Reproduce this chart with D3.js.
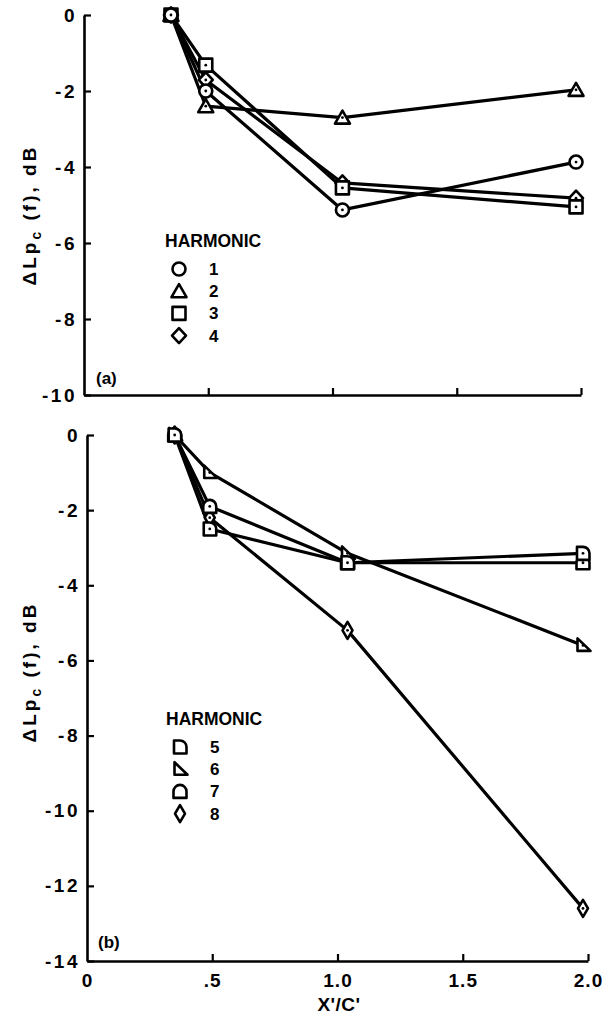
<!DOCTYPE html>
<html>
<head>
<meta charset="utf-8">
<script src="https://cdn.jsdelivr.net/npm/d3@7"></script>
<style>
  html, body { margin: 0; padding: 0; background: #fff; }
  svg text { font-family: "Liberation Sans", Arial, sans-serif; fill: #000; }
</style>
</head>
<body>
<svg id="chart" width="605" height="1019"></svg>
<script>
// Axial distance ratio X'/C' of the measurement stations
const stations = [0.35, 0.49, 1.04, 1.98];

// Panel (a): harmonics 1-4, change in level, dB
const harmonicsA = ["1", "2", "3", "4"];
const h1 = [0, -2.0, -5.13, -3.87];
const h2 = [0, -2.4, -2.7, -1.97];
const h3 = [0, -1.32, -4.55, -5.05];
const h4 = [0, -1.71, -4.42, -4.82];

// Panel (b): harmonics 5-8, change in level, dB
const harmonicsB = ["5", "6", "7", "8"];
const h5 = [0, -2.5, -3.4, -3.15];
const h6 = [0, -1.0, -3.15, -5.6];
const h7 = [0, -1.9, -3.4, -3.4];
const h8 = [0, -2.2, -5.2, -12.6];

// Tick values and labels
const xTicks = [0, 0.5, 1.0, 1.5, 2.0];
const xTickLabels = ["0", ".5", "1.0", "1.5", "2.0"];
const yTicksA = [0, -2, -4, -6, -8, -10];
const yTicksB = [0, -2, -4, -6, -8, -10, -12, -14];

const svg = d3.select("#chart");

// Marker outlines (centred on 0,0)
const shapes = {
  circle: "M 6.5 0 A 6.5 6.5 0 1 1 -6.5 0 A 6.5 6.5 0 1 1 6.5 0 Z",
  triangle: "M 0 -7 L 7.5 6 L -7.5 6 Z",
  square: "M -6.5 -6.5 L 6.5 -6.5 L 6.5 6.5 L -6.5 6.5 Z",
  diamond: "M 0 -7.5 L 7 0 L 0 7.5 L -7 0 Z",
  quarter: "M -6 6.5 L -6 -6.5 L 0 -6.5 A 6.5 6.5 0 0 1 6.5 0 L 6.5 6.5 Z",
  wedge: "M -5.5 -7 L -5.5 5.5 L 7.5 5.5 Z",
  arch: "M -6.5 6.5 L -6.5 0 A 6.5 6.5 0 0 1 6.5 0 L 6.5 6.5 Z",
  lens: "M 0 -8.5 L 5 0 L 0 8.5 L -5 0 Z"
};

function drawPanel(cfg) {
  const g = svg.append("g");
  const x = d3.scaleLinear().domain([0, 2]).range(cfg.xRange);
  const y = d3.scaleLinear().domain([0, cfg.yMin]).range(cfg.yRange);

  // y axis, ticks pointing inward
  const ya = g.append("g")
    .attr("transform", `translate(${cfg.xRange[0]},0)`)
    .call(d3.axisLeft(y).tickValues(cfg.yTicks).tickSize(-7).tickSizeOuter(0).tickPadding(7)
      .tickFormat(d => String(d)));
  // x axis, ticks pointing up
  const xa = g.append("g")
    .attr("transform", `translate(0,${cfg.yRange[1]})`)
    .call(d3.axisBottom(x).tickValues(xTicks).tickSize(-7).tickSizeOuter(0).tickPadding(13)
      .tickFormat((d, i) => cfg.xLabels ? xTickLabels[i] : ""));

  [ya, xa].forEach(a => {
    a.select(".domain").attr("stroke", "#000").attr("stroke-width", 2.6);
    a.selectAll(".tick line").attr("stroke", "#000").attr("stroke-width", 2.2);
    a.selectAll(".tick text").attr("font-size", 19).attr("font-weight", "bold").attr("fill", "#000");
  });
  ya.selectAll(".tick text").attr("letter-spacing", 2.5);
  xa.selectAll(".tick text").attr("letter-spacing", 1);
  xa.selectAll(".tick").filter(d => d === 0).select("line").remove();

  const line = d3.line().x((d, i) => x(stations[i])).y(d => y(d));

  // connecting lines
  cfg.series.forEach(s => {
    g.append("path").datum(s.values)
      .attr("d", line).attr("fill", "none")
      .attr("stroke", "#000").attr("stroke-width", 3.2).attr("stroke-linejoin", "round");
  });

  // markers
  const drawMarker = (parent, shape, cx, cy, dot) => {
    parent.append("path").attr("d", shapes[shape])
      .attr("transform", `translate(${cx},${cy})`)
      .attr("fill", "#fff").attr("stroke", "#000").attr("stroke-width", 2.6)
      .attr("stroke-linejoin", "round");
    if (dot) parent.append("circle").attr("cx", cx).attr("cy", cy).attr("r", 1.4).attr("fill", "#000");
  };
  cfg.series.slice().reverse().forEach(s => {
    s.values.forEach((v, i) => drawMarker(g, s.shape, x(stations[i]), y(v), true));
  });

  // legend
  g.append("text").attr("x", cfg.legend[0]).attr("y", cfg.legend[1])
    .attr("font-size", 17.5).attr("font-weight", "bold").text("HARMONIC");
  cfg.series.forEach((s, i) => {
    const ly = cfg.legend[1] + 28 + i * 22.2;
    drawMarker(g, s.shape, cfg.legend[0] + 14, ly - 6, false);
    g.append("text").attr("x", cfg.legend[0] + 44).attr("y", ly)
      .attr("font-size", 17).attr("font-weight", "bold").text(s.name);
  });

  // panel tag
  g.append("text").attr("x", cfg.tag[0]).attr("y", cfg.tag[1])
    .attr("font-size", 17).attr("font-weight", "bold").text(cfg.tagText);

  // y-axis title
  const t = g.append("text")
    .attr("transform", `translate(${cfg.titleX},${cfg.titleY}) rotate(-90)`)
    .attr("text-anchor", "middle").attr("font-size", 19).attr("font-weight", "bold")
    .attr("letter-spacing", 3);
  t.append("tspan").text("\u0394Lp");
  t.append("tspan").attr("font-size", 14).attr("dy", 5).text("c");
  t.append("tspan").attr("dy", -5).text(" (f),  dB");
}

drawPanel({
  xRange: [84, 581], yRange: [15, 395], yMin: -10, yTicks: yTicksA, xLabels: false,
  series: [
    { name: harmonicsA[0], values: h1, shape: "circle" },
    { name: harmonicsA[1], values: h2, shape: "triangle" },
    { name: harmonicsA[2], values: h3, shape: "square" },
    { name: harmonicsA[3], values: h4, shape: "diamond" }
  ],
  legend: [165, 247], tag: [96, 384], tagText: "(a)", titleX: 36, titleY: 215
});

drawPanel({
  xRange: [87, 588], yRange: [435, 961], yMin: -14, yTicks: yTicksB, xLabels: true,
  series: [
    { name: harmonicsB[0], values: h5, shape: "quarter" },
    { name: harmonicsB[1], values: h6, shape: "wedge" },
    { name: harmonicsB[2], values: h7, shape: "arch" },
    { name: harmonicsB[3], values: h8, shape: "lens" }
  ],
  legend: [166, 725], tag: [98, 948], tagText: "(b)", titleX: 36, titleY: 672
});

// x-axis title
svg.append("text").attr("x", 339).attr("y", 1011).attr("text-anchor", "middle")
  .attr("font-size", 19).attr("font-weight", "bold").attr("letter-spacing", 0.5).text("X'/C'");
</script>
</body>
</html>
